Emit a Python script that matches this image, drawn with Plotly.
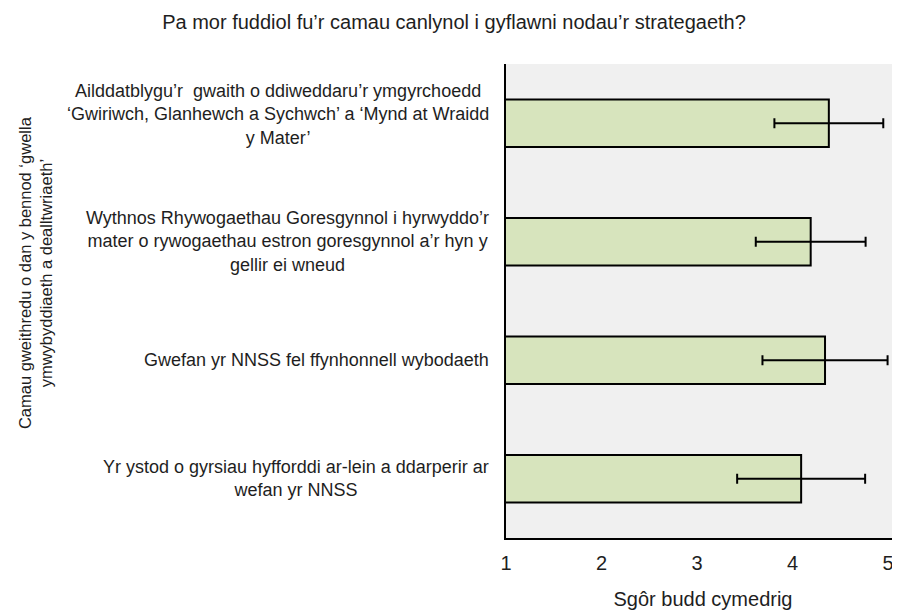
import plotly.graph_objects as go

categories = [
    "Ailddatblygu’r  gwaith o ddiweddaru’r ymgyrchoedd<br>‘Gwiriwch, Glanhewch a Sychwch’ a ‘Mynd at Wraidd<br>y Mater’",
    "Wythnos Rhywogaethau Goresgynnol i hyrwyddo’r<br>mater o rywogaethau estron goresgynnol a’r hyn y<br>gellir ei wneud",
    "Gwefan yr NNSS fel ffynhonnell wybodaeth",
    "Yr ystod o gyrsiau hyfforddi ar-lein a ddarperir ar<br>wefan yr NNSS",
]
cat_ids = ["c1", "c2", "c3", "c4"]
mean_scores = [4.38, 4.19, 4.34, 4.09]
error_values = [0.57, 0.575, 0.655, 0.67]
x_ticks = [1, 2, 3, 4, 5]

title_text = "Pa mor fuddiol fu’r camau canlynol i gyflawni nodau’r strategaeth?"
x_title = "Sgôr budd cymedrig"
y_title = "Camau gweithredu o dan y bennod ‘gwella<br>ymwybyddiaeth a dealltwriaeth’"

FONT = "Liberation Sans, Arial, sans-serif"
TXT = "#1e1e1e"

fig = go.Figure()
fig.add_trace(go.Bar(
    y=cat_ids,
    x=mean_scores,
    orientation="h",
    width=0.4,
    marker=dict(color="#d7e4bd", line=dict(color="#000000", width=2)),
    error_x=dict(type="data", array=error_values, visible=True,
                 color="#000000", thickness=2, width=5),
    showlegend=False,
))

for i, (cid, label) in enumerate(zip(cat_ids, categories)):
    fig.add_annotation(
        x=0, xref="paper", y=cid, yref="y",
        text=label, showarrow=False, xanchor="right", yanchor="middle",
        align="center", xshift=-15, yshift=(9 if i == 0 else 0),
        font=dict(family=FONT, size=18, color=TXT),
    )

fig.add_annotation(
    x=0, xref="paper", xanchor="left", xshift=-492,
    y=0.56, yref="paper", yanchor="middle",
    text=y_title, textangle=-90, showarrow=False, align="center",
    font=dict(family=FONT, size=16.5, color=TXT),
)

fig.update_layout(
    width=892, height=602,
    margin=dict(l=498, r=0, t=56, b=72),
    paper_bgcolor="#ffffff",
    plot_bgcolor="#f0f0f0",
    title=dict(text=title_text, x=0.5, xanchor="center", y=0.977, yanchor="middle",
               font=dict(family=FONT, size=20, color=TXT)),
    xaxis=dict(
        range=[1, 5.125], tickvals=x_ticks, showgrid=False, zeroline=False,
        showline=True, linecolor="#000000", linewidth=2,
        ticks="outside", ticklen=6, tickcolor="rgba(0,0,0,0)",
        tickfont=dict(family=FONT, size=20, color=TXT),
        title=dict(text=x_title, standoff=20,
                   font=dict(family=FONT, size=20, color=TXT)),
    ),
    yaxis=dict(
        categoryorder="array", categoryarray=cat_ids, autorange="reversed",
        showticklabels=False, showgrid=False, zeroline=False,
        showline=True, linecolor="#000000", linewidth=2, ticks="",
    ),
)

fig.write_html("out.html")
